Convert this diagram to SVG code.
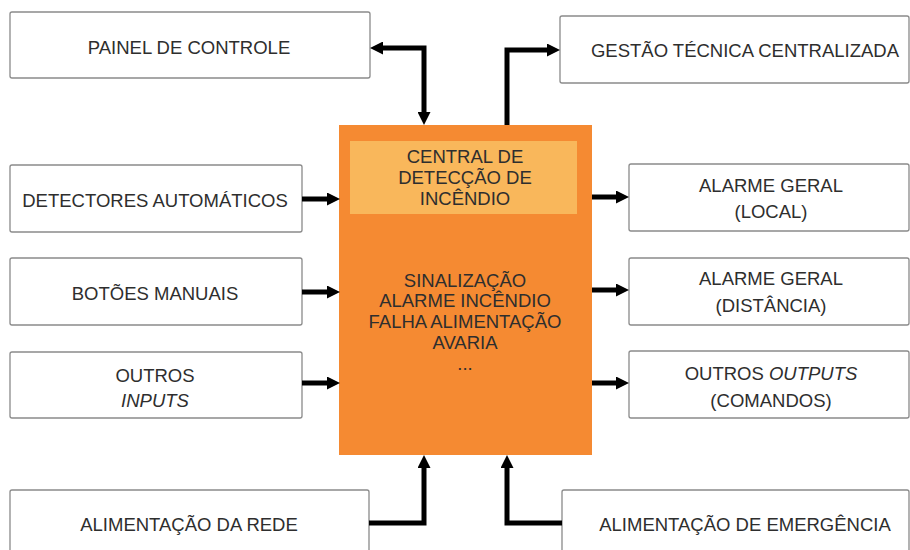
<svg xmlns="http://www.w3.org/2000/svg" width="910" height="550" viewBox="0 0 910 550">
<defs>
<style>
.box{fill:#fff;stroke:#8a8a8a;stroke-width:1.3}
.t{font-family:"Liberation Sans",Arial,sans-serif;font-size:18.5px;fill:#2e2e2e;text-anchor:middle}
.it{font-style:italic}
.c{fill:none;stroke:#000;stroke-width:5}
</style>
<marker id="ah" markerUnits="userSpaceOnUse" markerWidth="13" markerHeight="13" refX="1" refY="6.5" orient="auto-start-reverse" viewBox="0 0 13 13">
<path d="M0,0 L13,6.5 L0,13 z" fill="#000"/>
</marker>
</defs>
<rect width="910" height="550" fill="#fff"/>

<g id="painel">
<rect class="box" x="10" y="12" width="360" height="66" rx="2"/>
<text class="t" x="189" y="54">PAINEL DE CONTROLE</text>
</g>
<g id="gestao">
<rect class="box" x="560" y="16" width="349" height="67" rx="2"/>
<text class="t" x="745" y="57">GESTÃO TÉCNICA CENTRALIZADA</text>
</g>
<g id="detectores">
<rect class="box" x="10" y="165" width="292" height="67" rx="2"/>
<text class="t" x="155" y="207">DETECTORES AUTOMÁTICOS</text>
</g>
<g id="botoes">
<rect class="box" x="10" y="258" width="292" height="67" rx="2"/>
<text class="t" x="155" y="300">BOTÕES MANUAIS</text>
</g>
<g id="outros-inputs">
<rect class="box" x="10" y="352" width="292" height="66" rx="2"/>
<text class="t" x="155" y="382">OUTROS</text>
<text class="t it" x="155" y="407">INPUTS</text>
</g>
<g id="central">
<rect x="339" y="125" width="253" height="330" fill="#F58A32"/>
<rect x="350" y="141" width="227" height="73" fill="#F9B75B"/>
<text class="t" x="465" y="163">CENTRAL DE</text>
<text class="t" x="465" y="184">DETECÇÃO DE</text>
<text class="t" x="465" y="205">INCÊNDIO</text>
<text class="t" x="465" y="287">SINALIZAÇÃO</text>
<text class="t" x="465" y="307">ALARME INCÊNDIO</text>
<text class="t" x="465" y="328">FALHA ALIMENTAÇÃO</text>
<text class="t" x="465" y="349">AVARIA</text>
<text class="t" x="465" y="370">...</text>
</g>
<g id="alarme-local">
<rect class="box" x="629" y="164" width="280" height="67" rx="2"/>
<text class="t" x="771" y="192">ALARME GERAL</text>
<text class="t" x="771" y="218">(LOCAL)</text>
</g>
<g id="alarme-distancia">
<rect class="box" x="629" y="258" width="280" height="67" rx="2"/>
<text class="t" x="771" y="285">ALARME GERAL</text>
<text class="t" x="771" y="312">(DISTÂNCIA)</text>
</g>
<g id="outros-outputs">
<rect class="box" x="629" y="351" width="280" height="67" rx="2"/>
<text class="t" x="771" y="380">OUTROS <tspan class="it">OUTPUTS</tspan></text>
<text class="t" x="771" y="407">(COMANDOS)</text>
</g>
<g id="alim-rede">
<rect class="box" x="10" y="490" width="359" height="80" rx="2"/>
<text class="t" x="189" y="531">ALIMENTAÇÃO DA REDE</text>
</g>
<g id="alim-emergencia">
<rect class="box" x="562" y="490" width="347" height="80" rx="2"/>
<text class="t" x="745" y="531">ALIMENTAÇÃO DE EMERGÊNCIA</text>
</g>

<g id="connectors">
<path class="c" d="M382,48 L424,48 L424,113" marker-start="url(#ah)" marker-end="url(#ah)"/>
<path class="c" d="M507,125 L507,50 L548,50" marker-end="url(#ah)"/>
<path class="c" d="M302,199 L328,199" marker-end="url(#ah)"/>
<path class="c" d="M302,292 L328,292" marker-end="url(#ah)"/>
<path class="c" d="M302,383 L328,383" marker-end="url(#ah)"/>
<path class="c" d="M592,197 L617,197" marker-end="url(#ah)"/>
<path class="c" d="M592,290 L617,290" marker-end="url(#ah)"/>
<path class="c" d="M592,383 L617,383" marker-end="url(#ah)"/>
<path class="c" d="M369,523 L424,523 L424,467" marker-end="url(#ah)"/>
<path class="c" d="M562,523 L507,523 L507,467" marker-end="url(#ah)"/>
</g>
</svg>
